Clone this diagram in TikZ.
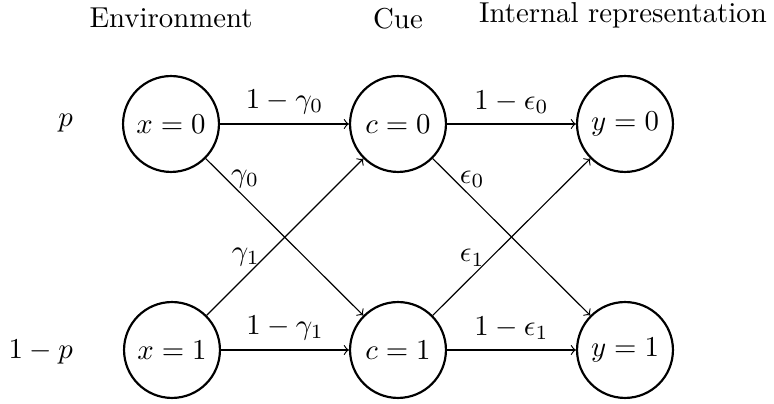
\documentclass[tikz,border=0pt]{standalone}
\begin{document}
\begin{tikzpicture}[x=0.3472pt,y=-0.3472pt,
  state/.style={circle,draw,line width=0.75pt,minimum size=33.3pt,inner sep=0pt},
  conn/.style={->},
  lbl/.style={font=\normalsize}]
\useasboundingbox (0,0) rectangle (774,404);
% headers
\node[anchor=base] (henv) at (171,27.5) {Environment};
\node[anchor=base] (hcue) at (398,28.5) {Cue};
\node[anchor=base] (hint) at (623,22.5) {Internal representation};
% priors
\node[anchor=east] (pp) at (83,123) {$p$};
\node[anchor=east] (qp) at (83,352) {$1-p$};
% states
\node[state] (x0) at (171,124) {$x=0$};
\node[state] (x1) at (172,350) {$x=1$};
\node[state] (c0) at (398,124) {$c=0$};
\node[state] (c1) at (398,350) {$c=1$};
\node[state] (y0) at (625,124) {$y=0$};
\node[state] (y1) at (625,350) {$y=1$};
% connectors
\draw[conn] (x0) -- node[above] {$1-\gamma_0$} (c0);
\draw[conn] (x0) -- node[pos=0.25,above] {$\gamma_0$} (c1);
\draw[conn] (x1) -- node[pos=0.25,above] {$\gamma_1$} (c0);
\draw[conn] (x1) -- node[above] {$1-\gamma_1$} (c1);
\draw[conn] (c0) -- node[above] {$1-\epsilon_0$} (y0);
\draw[conn] (c0) -- node[pos=0.25,above] {$\epsilon_0$} (y1);
\draw[conn] (c1) -- node[pos=0.25,above] {$\epsilon_1$} (y0);
\draw[conn] (c1) -- node[above] {$1-\epsilon_1$} (y1);
\end{tikzpicture}
\end{document}
